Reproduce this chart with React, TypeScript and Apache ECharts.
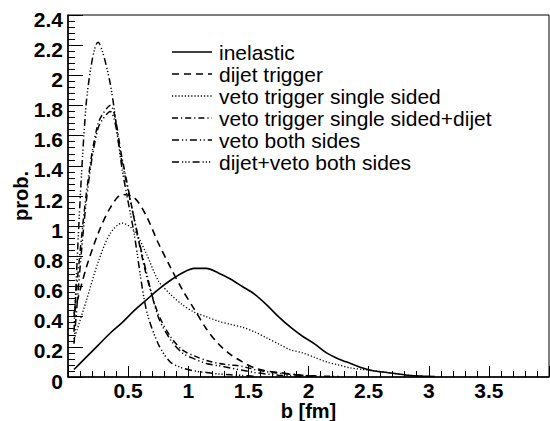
import React, { useEffect, useRef } from "react";
import * as echarts from "echarts";

// bin centres of impact parameter b [fm]
const bCenters = [
  0.05, 0.15, 0.25, 0.35, 0.45, 0.55, 0.65, 0.75, 0.85, 0.95,
  1.05, 1.15, 1.25, 1.35, 1.45, 1.55, 1.65, 1.75, 1.85, 1.95,
  2.05, 2.15, 2.25, 2.35, 2.45, 2.55, 2.65, 2.75, 2.85, 2.95, 3.05,
];

const inelastic = [
  0.05, 0.13, 0.21, 0.29, 0.36, 0.44, 0.51, 0.58, 0.64, 0.69,
  0.72, 0.72, 0.69, 0.65, 0.60, 0.55, 0.48, 0.40, 0.33, 0.27,
  0.22, 0.16, 0.12, 0.09, 0.06, 0.04, 0.03, 0.02, 0.01, 0.006, 0.003,
];
const dijetTrigger = [
  0.42, 0.72, 0.95, 1.12, 1.21, 1.19, 1.07, 0.89, 0.73, 0.58,
  0.45, 0.32, 0.22, 0.15, 0.10, 0.06, 0.04, 0.03, 0.02, 0.01, 0.005,
];
const vetoSingle = [
  0.25, 0.50, 0.76, 0.95, 1.02, 0.97, 0.82, 0.64, 0.55, 0.48,
  0.43, 0.40, 0.37, 0.35, 0.33, 0.30, 0.26, 0.22, 0.18, 0.16,
  0.13, 0.10, 0.08, 0.06, 0.05, 0.04, 0.03, 0.02, 0.01, 0.005,
];
const vetoSingleDijet = [
  0.40, 1.20, 1.68, 1.80, 1.45, 1.05, 0.68, 0.42, 0.27, 0.18,
  0.14, 0.11, 0.09, 0.08, 0.07, 0.05, 0.035, 0.025, 0.018, 0.012,
  0.008, 0.005, 0.003,
];
const vetoBoth = [
  0.22, 1.15, 1.65, 1.76, 1.42, 1.05, 0.70, 0.40, 0.25, 0.16,
  0.12, 0.09, 0.075, 0.06, 0.045, 0.03, 0.02, 0.012, 0.008, 0.005,
];
const dijetVetoBoth = [
  0.30, 1.80, 2.22, 1.95, 1.38, 0.95, 0.45, 0.22, 0.10, 0.06,
  0.04, 0.03, 0.02, 0.015, 0.01, 0.005,
];

const seriesNames = [
  "inelastic",
  "dijet trigger",
  "veto trigger single sided",
  "veto trigger single sided+dijet",
  "veto both sides",
  "dijet+veto both sides",
];
const seriesValues = [inelastic, dijetTrigger, vetoSingle, vetoSingleDijet, vetoBoth, dijetVetoBoth];
const dashes: (number[] | null)[] = [
  null,
  [7, 5],
  [1.2, 2],
  [6, 3, 1.2, 3],
  [7, 3, 1.2, 2.5, 1.2, 3],
  [7, 3, 1.2, 2, 1.2, 2, 1.2, 3],
];
const widths = [1.6, 1.6, 1.3, 1.5, 1.5, 1.5];

const FONT = "'Liberation Sans', Arial, Helvetica, sans-serif";

export default function App() {
  const ref = useRef<HTMLDivElement>(null);
  useEffect(() => {
    document.body.style.margin = "0";
    if (!ref.current) return;
    const chart = echarts.init(ref.current, undefined, { renderer: "svg" });

    const series = seriesValues.map((vals, k) => ({
      name: seriesNames[k],
      type: "line",
      data: vals.map((v, i) => [bCenters[i], v]),
      showSymbol: false,
      smooth: 0.3,
      lineStyle: {
        color: "#000",
        width: widths[k],
        type: dashes[k] ? dashes[k] : "solid",
      },
      z: 3,
    }));

    const legendElems: any[] = [];
    const legendTop = 52;
    const legendStep = 22;
    seriesNames.forEach((name, k) => {
      const y = legendTop + k * legendStep;
      legendElems.push({
        type: "line",
        shape: { x1: 172, y1: y, x2: 212, y2: y },
        style: {
          stroke: "#000",
          lineWidth: widths[k],
          lineDash: dashes[k] ? dashes[k] : null,
        },
      });
      legendElems.push({
        type: "text",
        x: 219,
        y: y,
        style: {
          text: name,
          fill: "#000",
          fontSize: 21,
          fontFamily: FONT,
          verticalAlign: "middle",
          align: "left",
        },
      });
    });

    const option: any = {
      animation: false,
      backgroundColor: "#fff",
      grid: {
        left: 68,
        right: 1,
        top: 15,
        bottom: 44,
        show: true,
        borderColor: "#000",
        borderWidth: 1,
        containLabel: false,
        outerBoundsMode: "none",
      },
      xAxis: {
        type: "value",
        min: 0,
        max: 4,
        interval: 0.5,
        name: "b [fm]",
        nameLocation: "middle",
        nameGap: 25,
        nameMoveOverlap: false,
        nameTextStyle: { fontSize: 20, fontWeight: "bold", fontFamily: FONT, color: "#000", lineHeight: 18 },
        axisLine: { show: true, lineStyle: { color: "#000", width: 1.5 } },
        axisTick: { show: true, inside: true, length: 11, lineStyle: { color: "#000", width: 1 } },
        minorTick: { show: true, splitNumber: 5, length: 6, lineStyle: { color: "#000", width: 1 } },
        splitLine: { show: false },
        minorSplitLine: { show: false },
        axisLabel: {
          margin: 6,
          fontSize: 21,
          fontWeight: "bold",
          fontFamily: FONT,
          color: "#000",
          lineHeight: 14,
          formatter: (v: number) => (v === 0 || v === 4 ? "" : String(v)),
        },
      },
      yAxis: {
        type: "value",
        min: 0,
        max: 2.4,
        interval: 0.2,
        name: "prob.",
        nameLocation: "middle",
        nameGap: 37,
        nameMoveOverlap: false,
        nameRotate: 90,
        nameTextStyle: { fontSize: 20, fontWeight: "bold", fontFamily: FONT, color: "#000" },
        axisLine: { show: true, lineStyle: { color: "#000", width: 1.5 } },
        axisTick: { show: true, inside: true, length: 15, lineStyle: { color: "#000", width: 1 } },
        minorTick: { show: true, splitNumber: 5, length: 7, lineStyle: { color: "#000", width: 1 } },
        splitLine: { show: false },
        minorSplitLine: { show: false },
        axisLabel: {
          margin: 5,
          fontSize: 21,
          fontWeight: "bold",
          fontFamily: FONT,
          color: "#000",
          verticalAlign: "top",
          lineHeight: 8,
          formatter: (v: number) => String(Math.round(v * 10) / 10),
        },
      },
      series,
      graphic: legendElems,
    };
    chart.setOption(option);
    return () => chart.dispose();
  }, []);
  return <div ref={ref} style={{ width: 550, height: 421 }} />;
}
